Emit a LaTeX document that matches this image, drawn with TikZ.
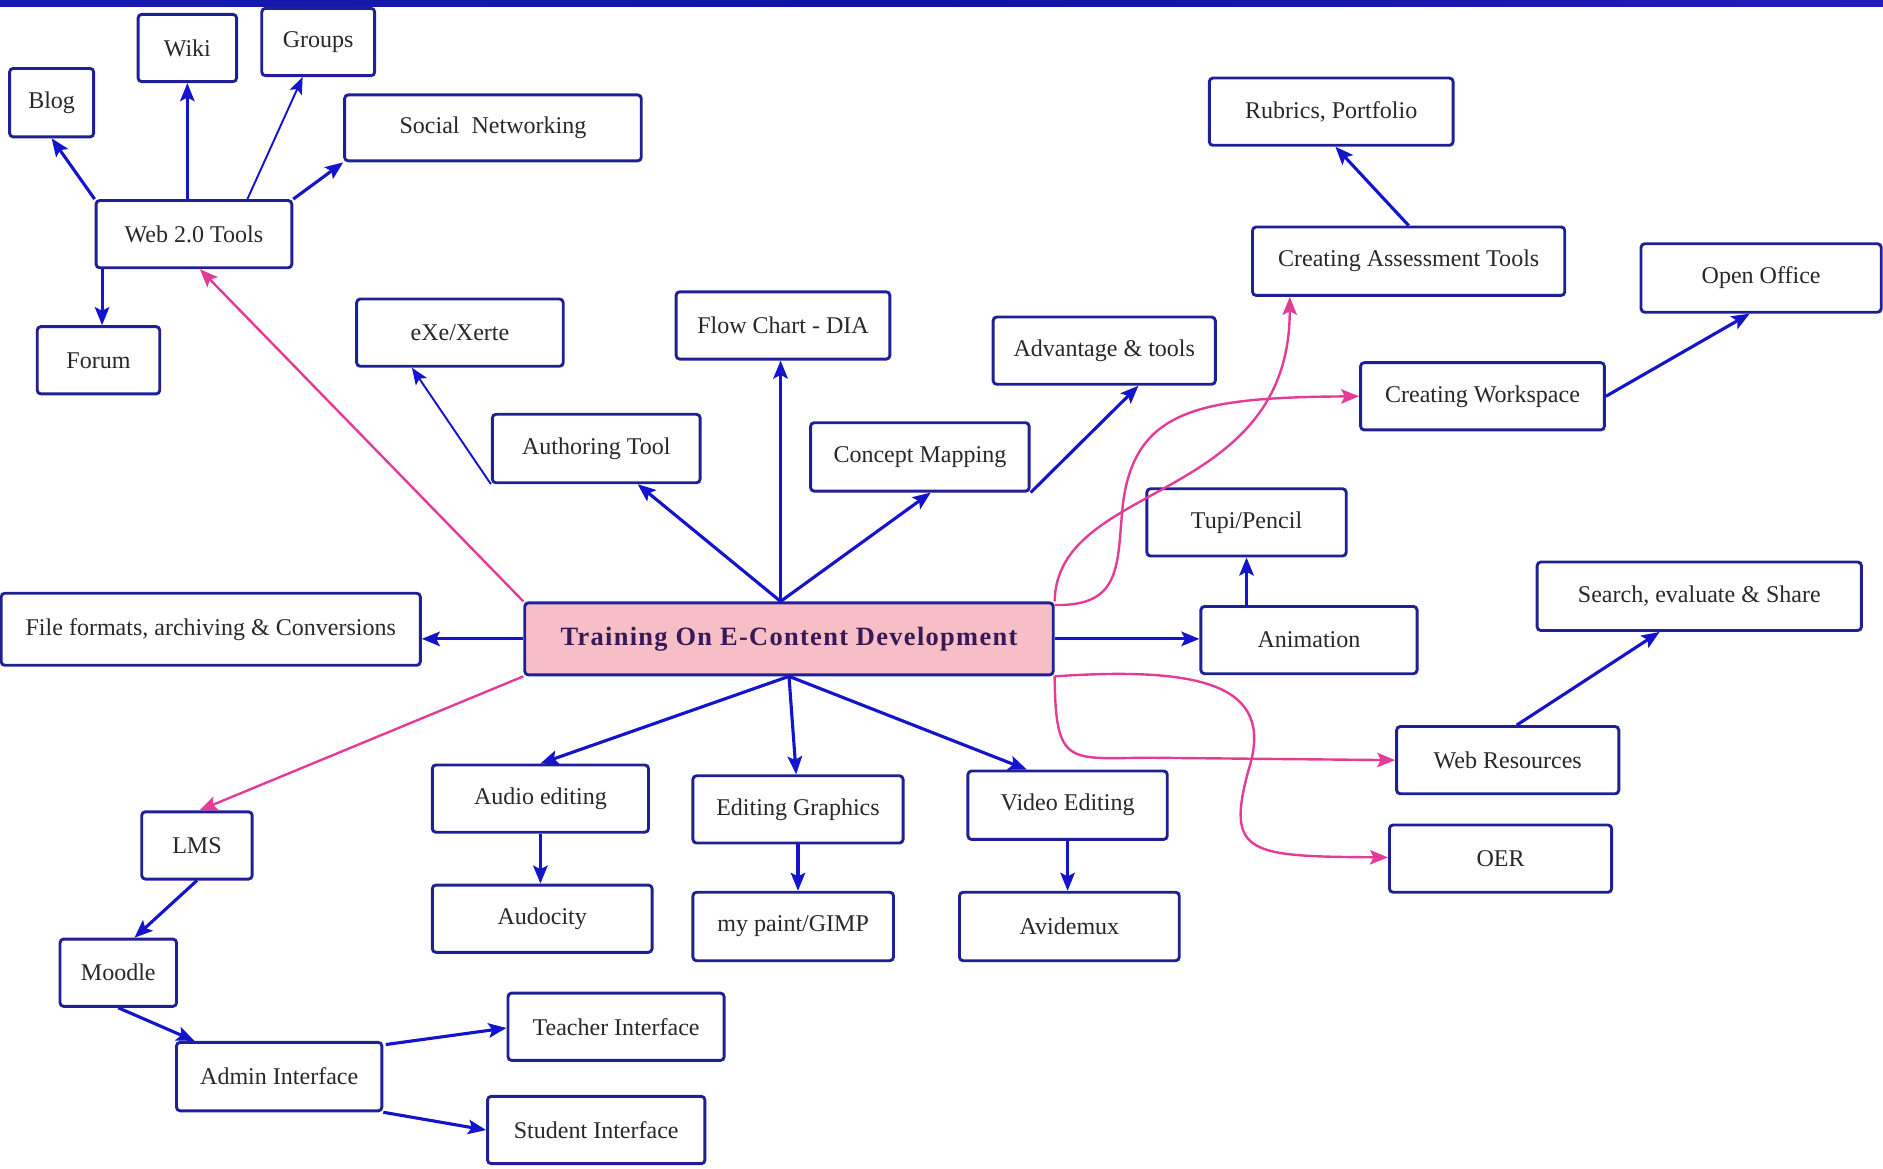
\documentclass[tikz,border=0pt]{standalone}
\usepackage{fontspec}
\setmainfont{Liberation Serif}
\newfontfamily\trainfont[LetterSpace=5]{Liberation Serif}
\usetikzlibrary{arrows.meta}
\definecolor{boxblue}{RGB}{32,32,150}
\definecolor{arblue}{RGB}{20,20,205}
\definecolor{pinkc}{RGB}{228,60,150}
\definecolor{trainfill}{RGB}{248,190,200}
\definecolor{txtgray}{RGB}{40,40,40}
\definecolor{traintxt}{RGB}{55,25,85}
\pgfdeclarehorizontalshading{topbar}{100bp}{rgb(0bp)=(0.62,0.32,0.62); rgb(4bp)=(0.50,0.12,0.80); rgb(12bp)=(0.10,0.12,0.72); rgb(50bp)=(0.06,0.08,0.62); rgb(80bp)=(0.14,0.12,0.74); rgb(91bp)=(0.48,0.08,0.82); rgb(100bp)=(0.66,0.30,0.58)}
\tikzset{
  bx/.style={draw=boxblue, line width=2.4pt, rounded corners=3pt, fill=white, inner sep=0pt,
    font=\fontsize{20}{24}\selectfont, text=txtgray, align=center},
  ar/.style={draw=arblue, line width=2.6pt, -{Stealth[length=15pt,width=12pt,inset=3pt]}},
  art/.style={draw=arblue, line width=1.6pt, -{Stealth[length=14pt,width=11pt,inset=3pt]}},
  pk/.style={draw=pinkc, line width=2pt, -{Stealth[length=15pt,width=12pt,inset=3pt]}},
}
\begin{document}
\begin{tikzpicture}[x=1pt,y=-1pt]
\useasboundingbox (0,0) rectangle (1568,973);
\fill[white] (0,0) rectangle (1568,973);
\shade[shading=topbar] (0,0) rectangle (1568,5.5);

% nodes
\node[bx, minimum width=70, minimum height=57] (blog) at (43,85.5) {Blog};
\node[bx, minimum width=82, minimum height=56] (wiki) at (156,40) {Wiki};
\node[bx, minimum width=94, minimum height=56] (groups) at (265,35) {Groups};
\node[bx, minimum width=247, minimum height=55] (social) at (410.5,106.5) {Social\ \ Networking};
\node[bx, minimum width=163, minimum height=56] (web) at (161.5,195) {Web 2.0 Tools};
\node[bx, minimum width=102, minimum height=56] (forum) at (82,300) {Forum};
\node[bx, minimum width=172, minimum height=56] (exe) at (383,277) {eXe/Xerte};
\node[bx, minimum width=173, minimum height=57] (author) at (496.5,373.5) {Authoring Tool};
\node[bx, minimum width=178, minimum height=56] (flow) at (652,271) {Flow Chart - DIA};
\node[bx, minimum width=185, minimum height=56] (adv) at (919.5,292) {Advantage \& tools};
\node[bx, minimum width=182, minimum height=57] (concept) at (766,380.5) {Concept Mapping};
\node[bx, minimum width=203, minimum height=56] (rub) at (1108.5,93) {Rubrics, Portfolio};
\node[bx, minimum width=260, minimum height=57] (assess) at (1173,217.5) {Creating Assessment Tools};
\node[bx, minimum width=200, minimum height=57] (oo) at (1466.5,231.5) {Open Office};
\node[bx, minimum width=203, minimum height=56] (work) at (1234.5,330) {Creating Workspace};
\node[bx, minimum width=166, minimum height=56] (tupi) at (1038,435) {Tupi/Pencil};
\node[bx, minimum width=180, minimum height=56] (anim) at (1090,533) {Animation};
\node[bx, minimum width=270, minimum height=57] (search) at (1415,496.5) {Search, evaluate \& Share};
\node[bx, minimum width=185, minimum height=56] (webres) at (1255.5,633) {Web Resources};
\node[bx, minimum width=185, minimum height=56] (oer) at (1249.5,715) {OER};
\node[bx, fill=trainfill, minimum width=440, minimum height=60, font=\trainfont\fontsize{22}{26}\selectfont\bfseries, text=traintxt] (train) at (657,532) {Training On E-Content Development};
\node[bx, minimum width=349, minimum height=60] (file) at (175.5,524) {File formats, archiving \& Conversions};
\node[bx, minimum width=92, minimum height=56] (lms) at (164,704) {LMS};
\node[bx, minimum width=97, minimum height=56] (moodle) at (98.5,810) {Moodle};
\node[bx, minimum width=171, minimum height=57] (admin) at (232.5,896.5) {Admin Interface};
\node[bx, minimum width=180, minimum height=56] (teacher) at (513,855) {Teacher Interface};
\node[bx, minimum width=181, minimum height=56] (student) at (496.5,941) {Student Interface};
\node[bx, minimum width=180, minimum height=56] (audio) at (450,665) {Audio editing};
\node[bx, minimum width=183, minimum height=56] (audocity) at (451.5,765) {Audocity};
\node[bx, minimum width=175, minimum height=56] (editg) at (664.5,674) {Editing Graphics};
\node[bx, minimum width=167, minimum height=57] (gimp) at (660.5,771.5) {my paint/GIMP};
\node[bx, minimum width=166, minimum height=57] (video) at (889,670.5) {Video Editing};
\node[bx, minimum width=183, minimum height=57] (avid) at (890.5,771.5) {Avidemux};

\coordinate (hubtop) at ([xshift=-7]train.north);
\coordinate (hubbot) at (train.south);

% Web 2.0 cluster
\draw[ar] (web.north west) -- (blog.south);
\draw[ar] (wiki.south |- web.north) -- (wiki.south);
\draw[art] ([xshift=44.5]web.north) -- ([xshift=-13]groups.south);
\draw[ar] (web.north east) -- (social.south west);
\draw[ar] ([xshift=3]forum.north |- web.south) -- ([xshift=3]forum.north);

% top arrows
\draw[art] (author.south west) -- ([xshift=-40]exe.south);
\draw[ar] (hubtop) -- ([xshift=34.5]author.south);
\draw[ar] (hubtop) -- (hubtop |- flow.south);
\draw[ar] (hubtop) -- ([xshift=9]concept.south);
\draw[ar] (concept.south east) -- ([xshift=28.5]adv.south);
\draw[ar] (assess.north) -- ([xshift=3.5]rub.south);
\draw[ar] (work.east) -- ([xshift=-9.5]oo.south);

% right side
\draw[ar] (train.east) -- (train.east -| anim.west);
\draw[ar] (tupi.south |- anim.north) -- (tupi.south);
\draw[ar] ([xshift=7.5]webres.north) -- ([xshift=-33]search.south);

% left side
\draw[ar] (train.west) -- (train.west -| file.east);
\draw[ar] (lms.south) -- ([xshift=13.5]moodle.north);
\draw[ar] (moodle.south) -- ([xshift=-70.5]admin.north);
\draw[ar] ([xshift=2,yshift=-3]admin.north east) -- ([yshift=-1]teacher.west);
\draw[ar] (admin.south east) -- (student.west);

% bottom
\draw[ar] (hubbot) -- (audio.north);
\draw[ar] (hubbot) -- ([xshift=-1.5]editg.north);
\draw[ar] (hubbot) -- ([xshift=-34]video.north);
\draw[ar] (audio.south) -- (audio.south |- audocity.north);
\draw[ar] (editg.south) -- (editg.south |- gimp.north);
\draw[ar] (video.south) -- (video.south |- avid.north);

% pink connectors
\draw[pk] (train.north west) -- ([xshift=5]web.south);
\draw[pk] (train.south west) -- ([xshift=2]lms.north);
\draw[pk] (train.north east) .. controls (880,400) and (1074,420) .. ([xshift=-99]assess.south);
\draw[pk] ([yshift=-3]train.north east) .. controls (935,505) and (930,470) .. (935,420)
   .. controls (945,340) and (1000,331) .. (work.west);
\draw[pk] (train.south east) .. controls (879,640) and (890,631) .. (960,631) -- (webres.west);
\draw[pk] (train.south east) .. controls (1000,555) and (1062,570) .. (1040,640)
   .. controls (1020,712) and (1040,713) .. ([yshift=1]oer.west);
\end{tikzpicture}
\end{document}
